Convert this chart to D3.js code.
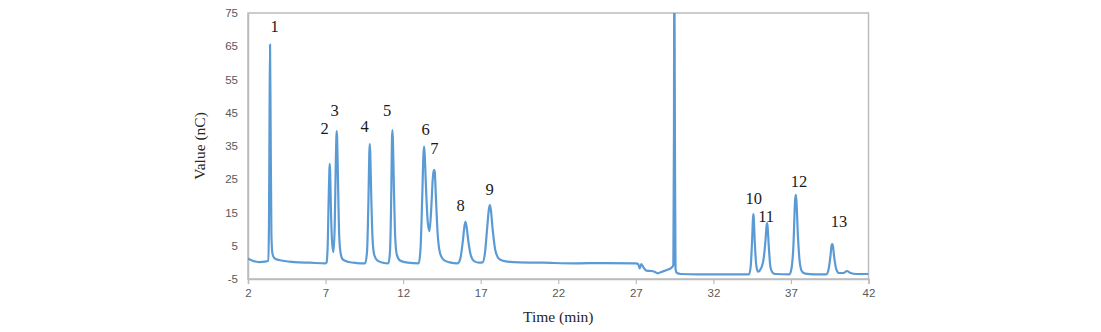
<!DOCTYPE html>
<html>
<head>
<meta charset="utf-8">
<script src="https://cdn.jsdelivr.net/npm/d3@7/dist/d3.min.js"></script>
<style>
  html, body { margin: 0; padding: 0; background: #fff; }
  svg { display: block; }
</style>
</head>
<body>
<svg id="chart" width="1101" height="332"></svg>
<script>
// ---- data ----
const timeMin = [
  2.0, 2.3, 2.7, 3.2, 3.30, 3.35, 3.39, 3.42, 3.46, 3.51, 3.58, 3.7, 4.0, 5.0, 6.0, 7.0,
  7.06, 7.13, 7.2, 7.245, 7.27, 7.295, 7.35, 7.43, 7.51, 7.59, 7.66, 7.695, 7.72, 7.745, 7.8, 7.88, 7.98, 8.12, 8.5, 9.0,
  9.55, 9.67, 9.77, 9.82, 9.85, 9.88, 9.94, 10.03, 10.14, 10.35, 10.7,
  11.05, 11.15, 11.24, 11.28, 11.31, 11.34, 11.4, 11.49, 11.6, 11.82, 12.3,
  13.0, 13.12, 13.24, 13.31, 13.35, 13.39, 13.47, 13.59, 13.70, 13.81, 13.91, 13.96, 14.0, 14.04, 14.11, 14.22, 14.37, 14.6, 15.0,
  15.5, 15.68, 15.84, 15.96, 16.02, 16.08, 16.2, 16.37, 16.6, 16.9,
  17.12, 17.28, 17.42, 17.53, 17.59, 17.65, 17.77, 17.95, 18.2, 18.6, 19.5, 21.0, 23.0, 25.0, 27.0,
  27.15, 27.25, 27.35, 27.5, 27.68, 28.0, 28.2, 28.4, 28.7, 29.0, 29.3, 29.42,
  29.46, 29.48, 29.52, 29.56, 29.65, 29.9, 31.0, 34.3,
  34.41, 34.5, 34.555, 34.58, 34.605, 34.67, 34.77, 34.87, 34.98, 35.2, 35.35, 35.43, 35.46, 35.49, 35.57, 35.68, 35.82, 36.0, 36.9,
  37.03, 37.16, 37.27, 37.31, 37.35, 37.45, 37.57, 37.72, 37.92, 38.5,
  39.28, 39.43, 39.55, 39.62, 39.66, 39.70, 39.79, 39.92, 40.1, 40.4, 40.6, 40.85, 41.2, 42.0
];
const signalNC = [
  1.2, 0.5, 0.1, 0.3, 0.5, 10, 45, 65.5, 40, 8, 2.5, 1.3, 0.7, 0.1, -0.1, -0.3,
  -0.1, 4, 19, 27.5, 29.6, 27.5, 15, 5.5, 3.1, 11, 30, 37.5, 39.5, 37.5, 25, 8, 2.5, 0.8, 0.1, -0.2,
  -0.3, 3, 20, 33, 35.6, 33, 21, 7, 2.2, 0.5, -0.1,
  -0.3, 3, 22, 37, 39.8, 37, 24, 7.5, 2.2, 0.5, -0.1,
  -0.3, 4, 21, 32.5, 34.8, 32.5, 23, 12, 9.4, 16, 25, 27.3, 27.8, 27.2, 20, 9, 3, 0.8, 0,
  -0.3, 1, 6, 11, 12.2, 11, 6.5, 2, 0.3, -0.1,
  0, 3, 10.5, 16, 17.2, 16, 10, 3.5, 1, 0.3, 0, -0.1, -0.3, -0.2, -0.3,
  -0.5, -1.8, -0.5, -1.6, -2.5, -2.6, -2.8, -3.3, -2.8, -2.3, -1.6, -0.8,
  40, 95, 40, -2, -3.2, -3.5, -3.6, -3.6,
  -1, 7, 13.3, 14.5, 13.3, 6, -1, -2.8, -2.5, 0, 6, 11, 11.8, 11, 5, -1.5, -3.1, -3.5, -3.6,
  -2, 5, 18.8, 20.3, 18.8, 8, 0, -2.8, -3.4, -3.6,
  -3.6, -2, 2, 5.1, 5.5, 5.1, 1.5, -2, -3.2, -3.2, -2.6, -3.2, -3.5, -3.5
];
const xTicks = [2, 7, 12, 17, 22, 27, 32, 37, 42];
const yTicks = [-5, 5, 15, 25, 35, 45, 55, 65, 75];
const peakLabels = ["1", "2", "3", "4", "5", "6", "7", "8", "9", "10", "11", "12", "13"];
const labelTime  = [3.71, 6.94, 7.58, 9.52, 10.97, 13.45, 14.02, 15.70, 17.57, 34.60, 35.40, 37.52, 40.10];
const labelValue = [70.8, 40.4, 45.7, 41.0, 45.8, 40.1, 34.1, 17.0, 22.0, 19.3, 13.9, 24.3, 12.2];

// ---- layout ----
const plot = { left: 248, right: 868.5, top: 13, bottom: 279 };
const svg = d3.select("#chart");

const x = d3.scaleLinear().domain([2, 42]).range([plot.left, plot.right]);
const y = d3.scaleLinear().domain([-5, 75]).range([plot.bottom, plot.top]);

const axisColor = "#bcbcbc";
const tickTextColor = "#595959";

// plot border (top and right)
svg.append("rect")
  .attr("x", plot.left).attr("y", plot.top)
  .attr("width", plot.right - plot.left).attr("height", plot.bottom - plot.top)
  .attr("fill", "none").attr("stroke", axisColor).attr("stroke-width", 1.5);

// clip path
svg.append("defs").append("clipPath").attr("id", "clip")
  .append("rect")
  .attr("x", plot.left).attr("y", plot.top)
  .attr("width", plot.right - plot.left).attr("height", plot.bottom - plot.top);

// axes
const xAxis = svg.append("g")
  .attr("transform", `translate(0,${plot.bottom})`)
  .call(d3.axisBottom(x).tickValues(xTicks).tickSize(5).tickPadding(5).tickFormat(d3.format("d")));
const yAxis = svg.append("g")
  .attr("transform", `translate(${plot.left},0)`)
  .call(d3.axisLeft(y).tickValues(yTicks).tickSize(0).tickPadding(10).tickFormat(d => d < 0 ? "-" + Math.abs(d) : d));

[xAxis, yAxis].forEach(g => {
  g.select(".domain").attr("stroke", axisColor).attr("stroke-width", 1.5);
  g.selectAll(".tick line").attr("stroke", axisColor).attr("stroke-width", 1.2);
  g.selectAll(".tick text")
    .attr("fill", tickTextColor)
    .style("font-family", "'Liberation Sans', Arial, sans-serif")
    .style("font-size", "11.5px");
});

// line
const pts = timeMin.map((t, i) => [t, signalNC[i]]);
const line = d3.line()
  .x(d => x(d[0]))
  .y(d => y(d[1]))
  .curve(d3.curveMonotoneX);

svg.append("path")
  .datum(pts)
  .attr("clip-path", "url(#clip)")
  .attr("d", line)
  .attr("fill", "none")
  .attr("stroke", "#5b9bd5")
  .attr("stroke-width", 2.2)
  .attr("stroke-linejoin", "round");

// peak labels
svg.append("g").selectAll("text")
  .data(peakLabels)
  .join("text")
  .attr("x", (d, i) => x(labelTime[i]))
  .attr("y", (d, i) => y(labelValue[i]))
  .attr("text-anchor", "middle")
  .attr("dominant-baseline", "central")
  .attr("fill", "#1a1a1a")
  .style("font-family", "'Liberation Serif', 'Times New Roman', serif")
  .style("font-size", "16.5px")
  .text(d => d);

// axis titles
svg.append("text")
  .attr("x", (plot.left + plot.right) / 2)
  .attr("y", 316)
  .attr("text-anchor", "middle")
  .attr("dominant-baseline", "central")
  .attr("fill", "#262626")
  .style("font-family", "'Liberation Serif', 'Times New Roman', serif")
  .style("font-size", "15.5px")
  .text("Time (min)");

svg.append("text")
  .attr("transform", `translate(199,${(plot.top + plot.bottom) / 2}) rotate(-90)`)
  .attr("text-anchor", "middle")
  .attr("dominant-baseline", "central")
  .attr("fill", "#262626")
  .style("font-family", "'Liberation Serif', 'Times New Roman', serif")
  .style("font-size", "15.5px")
  .text("Value (nC)");
</script>
</body>
</html>
